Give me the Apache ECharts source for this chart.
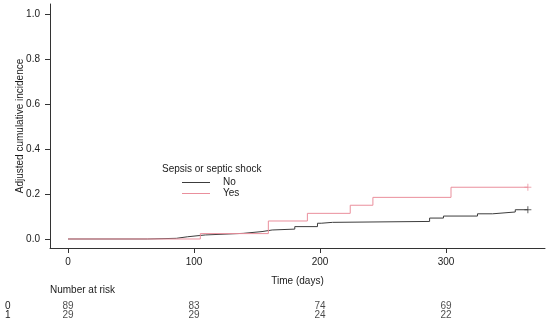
<!DOCTYPE html>
<html>
<head>
<meta charset="utf-8">
<script src="https://cdn.jsdelivr.net/npm/echarts@6/dist/echarts.min.js"></script>
<style>html,body{margin:0;padding:0;background:#fff}#c{width:550px;height:322px}</style>
</head>
<body>
<div id="c"></div>
<script>
// Data
var noTime = [0, 63, 86, 95, 109, 139, 154, 162, 180, 198, 201, 210, 287, 298, 325, 337, 355, 365];
var noInc  = [0, 0.003, 0.010, 0.018, 0.025, 0.033, 0.040, 0.044, 0.055, 0.070, 0.074, 0.078, 0.093, 0.102, 0.112, 0.120, 0.130, 0.130];
var yesTime = [0, 105, 159, 190, 224, 242, 304, 365];
var yesInc  = [0, 0.024, 0.080, 0.114, 0.150, 0.185, 0.230, 0.230];
var xTicks = [0, 100, 200, 300];
var yTicks = [0, 0.2, 0.4, 0.6, 0.8, 1.0];
var riskTimes = [0, 100, 200, 300];
var riskNo  = [89, 83, 74, 69];
var riskYes = [29, 29, 24, 22];
var groups = ['0', '1'];

var FONT = 'Liberation Sans';
var TXT = '#1a1a1a';
var C_NO = '#3c3c3c';
var C_YES = '#ea8f9c';

function pairs(t, v) { return t.map(function (x, i) { return [x, v[i]]; }); }
var riskData = [];
riskTimes.forEach(function (t, i) {
  riskData.push([t, groups[0], riskNo[i]]);
  riskData.push([t, groups[1], riskYes[i]]);
});
var plus = 'path://M5,0L5,10M0,5L10,5';

var chart = echarts.init(document.getElementById('c'), null, {renderer: 'canvas'});
chart.setOption({
  animation: false,
  textStyle: {fontFamily: FONT, color: TXT},
  title: [
    {text: 'Sepsis or septic shock', left: 162, top: 164, textStyle: {fontFamily: FONT, fontSize: 10, fontWeight: 'normal', color: TXT}, padding: 0},
    {text: 'Number at risk', left: 50, top: 285, textStyle: {fontFamily: FONT, fontSize: 10, fontWeight: 'normal', color: TXT}, padding: 0}
  ],
  legend: {
    data: ['No', 'Yes'],
    orient: 'vertical',
    left: 182, top: 177,
    icon: 'rect',
    itemWidth: 28, itemHeight: 1,
    itemGap: 0,
    padding: 0,
    textStyle: {fontFamily: FONT, fontSize: 10, color: TXT, lineHeight: 11, padding: [0, 0, 0, 8]}
  },
  grid: [
    {left: 50, right: 5, top: 4, bottom: 74, outerBoundsMode: 'none', containLabel: false},
    {left: 50, right: 5, top: 302, height: 18, outerBoundsMode: 'none', containLabel: false}
  ],
  xAxis: [
    {
      type: 'value', gridIndex: 0, min: -14.3, max: 378.6,
      name: 'Time (days)', nameLocation: 'middle', nameGap: 28, nameMoveOverlap: false,
      nameTextStyle: {fontFamily: FONT, fontSize: 10, color: TXT},
      splitLine: {show: false},
      axisLine: {onZero: false, lineStyle: {color: '#333', width: 1}},
      axisTick: {show: true, length: 5, customValues: xTicks, lineStyle: {color: '#333'}},
      axisLabel: {customValues: xTicks, margin: 9, fontSize: 10, color: TXT, fontFamily: FONT}
    },
    {
      type: 'value', gridIndex: 1, min: -14.3, max: 378.6, show: false
    }
  ],
  yAxis: [
    {
      type: 'value', gridIndex: 0, min: -0.04, max: 1.0444,
      name: 'Adjusted cumulative incidence', nameLocation: 'middle', nameGap: 25, nameRotate: 90,
      nameMoveOverlap: false,
      nameTextStyle: {fontFamily: FONT, fontSize: 10, color: TXT},
      splitLine: {show: false},
      axisLine: {show: true, onZero: false, lineStyle: {color: '#333', width: 1}},
      axisTick: {show: true, length: 5, customValues: yTicks, lineStyle: {color: '#333'}},
      axisLabel: {customValues: yTicks, margin: 10, fontSize: 10, color: TXT, fontFamily: FONT,
        formatter: function (v) { return v.toFixed(1); }}
    },
    {
      type: 'category', gridIndex: 1, data: groups, inverse: true,
      axisLine: {show: false}, axisTick: {show: false}, splitLine: {show: false},
      axisLabel: {interval: 0, align: 'left', margin: 45, fontSize: 10, color: TXT, fontFamily: FONT}
    }
  ],
  series: [
    {
      name: 'No', type: 'line', step: 'end', xAxisIndex: 0, yAxisIndex: 0,
      data: pairs(noTime, noInc), symbol: 'none', color: C_NO,
      lineStyle: {color: C_NO, width: 1}
    },
    {
      name: 'Yes', type: 'line', step: 'end', xAxisIndex: 0, yAxisIndex: 0,
      data: pairs(yesTime, yesInc), symbol: 'none', color: C_YES,
      lineStyle: {color: C_YES, width: 1}
    },
    {
      name: 'censNo', type: 'scatter', xAxisIndex: 0, yAxisIndex: 0,
      data: [[noTime[noTime.length - 1], noInc[noInc.length - 1]]],
      symbol: plus, symbolSize: 7,
      itemStyle: {color: 'none', borderColor: C_NO, borderWidth: 1}
    },
    {
      name: 'censYes', type: 'scatter', xAxisIndex: 0, yAxisIndex: 0,
      data: [[yesTime[yesTime.length - 1], yesInc[yesInc.length - 1]]],
      symbol: plus, symbolSize: 7,
      itemStyle: {color: 'none', borderColor: C_YES, borderWidth: 1}
    },
    {
      name: 'risk', type: 'scatter', xAxisIndex: 1, yAxisIndex: 1,
      data: riskData, symbolSize: 0,
      label: {show: true, position: 'inside', fontSize: 10, color: TXT, fontFamily: FONT,
        formatter: function (p) { return String(p.value[2]); }}
    }
  ]
});
</script>
</body>
</html>
